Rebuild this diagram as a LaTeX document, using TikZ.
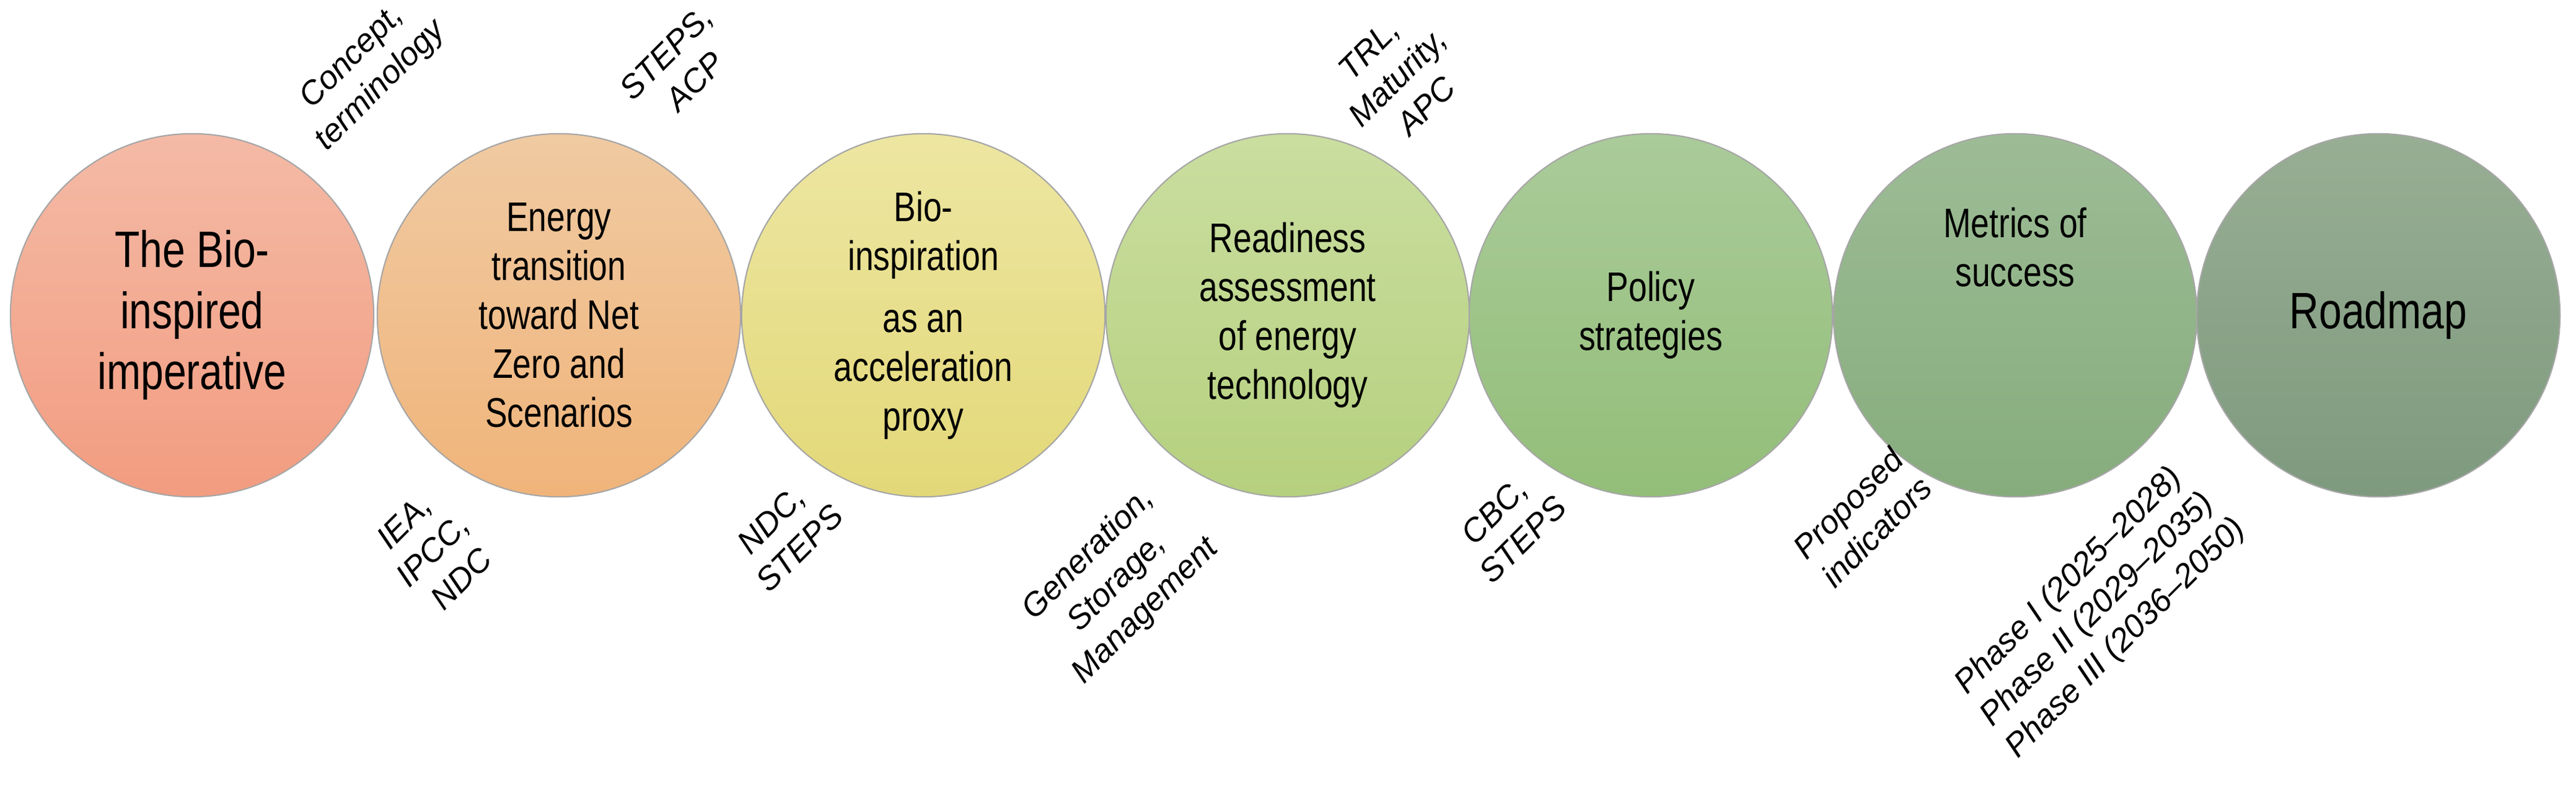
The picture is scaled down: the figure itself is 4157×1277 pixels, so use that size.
\documentclass[tikz,border=0pt]{standalone}
\usepackage{fontspec}
\setmainfont{Liberation Sans}
\newfontfamily\cond{Liberation Sans}[FakeStretch=0.8]
\begin{document}
\begin{tikzpicture}[x=0.01cm,y=-0.01cm,
  circ/.style={circle,minimum size=5.86cm,inner sep=0pt,draw=gray!70,line width=0.6pt,align=center,font=\cond\fontsize{19}{22.5}\selectfont},
  big/.style={font=\cond\fontsize{23.5}{28}\selectfont},
  lab/.style={rotate=45,align=center,font=\itshape\fontsize{15}{18.5}\selectfont}]
\useasboundingbox (0,0) rectangle (4157,1277);
\node[circ,big,top color={rgb,255:red,244;green,186;blue,166},bottom color={rgb,255:red,242;green,156;blue,128}] (c1) at (310,509) {The Bio-\\inspired\\imperative};
\node[circ,top color={rgb,255:red,240;green,202;blue,162},bottom color={rgb,255:red,240;green,180;blue,122}] (c2) at (902,509) {Energy\\transition\\toward Net\\Zero and\\Scenarios};
\node[circ,top color={rgb,255:red,237;green,230;blue,162},bottom color={rgb,255:red,227;green,216;blue,120}] (c3) at (1490,509) {Bio-\\inspiration\\[6pt]as an\\acceleration\\proxy};
\node[circ,top color={rgb,255:red,202;green,222;blue,160},bottom color={rgb,255:red,181;green,208;blue,126}] (c4) at (2078,509) {Readiness\\assessment\\of energy\\technology};
\node[circ,top color={rgb,255:red,170;green,203;blue,154},bottom color={rgb,255:red,147;green,190;blue,120}] (c5) at (2664,509) {Policy\\strategies};
\node[circ,top color={rgb,255:red,157;green,188;blue,150},bottom color={rgb,255:red,134;green,172;blue,124}] (c6) at (3252,509) {Metrics of\\success\\[40pt]};
\node[circ,big,top color={rgb,255:red,152;green,174;blue,148},bottom color={rgb,255:red,126;green,154;blue,126}] (c7) at (3838,509) {Roadmap};
\node[lab] (l1) at (592,116) {Concept,\\terminology};
\node[lab] (l2) at (1098,108) {STEPS,\\ACP};
\node[lab] (l3) at (2255,125) {TRL,\\Maturity,\\APC};
\node[lab] (l4) at (698,888) {IEA,\\IPCC,\\NDC};
\node[lab] (l5) at (1267,862) {NDC,\\STEPS};
\node[lab] (l6) at (1803,941) {Generation,\\Storage,\\Management};
\node[lab] (l7) at (2434,848) {CBC,\\STEPS};
\node[lab] (l8) at (3005,835) {Proposed\\indicators};
\node[lab] (l9) at (3385,985) {Phase I (2025--2028)\\Phase II (2029--2035)\\Phase III (2036--2050)};
\end{tikzpicture}
\end{document}
